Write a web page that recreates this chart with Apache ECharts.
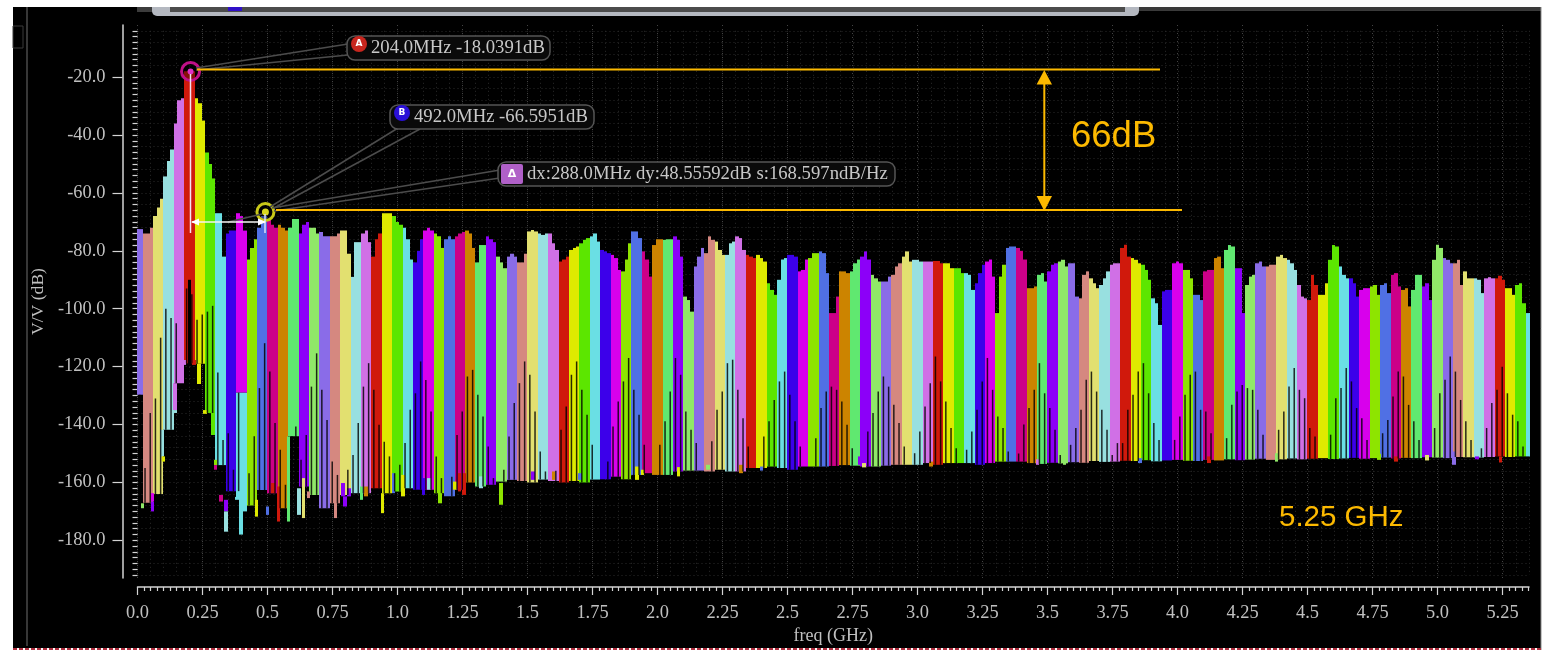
<!DOCTYPE html>
<html>
<head>
<meta charset="utf-8">
<title>freq spectrum</title>
<script src="https://cdn.jsdelivr.net/npm/echarts@6/dist/echarts.min.js"></script>
<style>
html, body { margin: 0; padding: 0; background: #fff; }
#panel { position: absolute; left: 13px; top: 7px; width: 1528px; height: 641px; background: #000; }
#main { position: absolute; left: 0; top: 0; width: 1552px; height: 650px; filter: blur(0.5px); }
</style>
</head>
<body>
<div id="panel"></div>
<div id="main"></div>
<script>
var xTicks = [0, 0.25, 0.5, 0.75, 1, 1.25, 1.5, 1.75, 2, 2.25, 2.5, 2.75, 3, 3.25, 3.5, 3.75, 4, 4.25, 4.5, 4.75, 5, 5.25];
var xTickLabels = ['0.0', '0.25', '0.5', '0.75', '1.0', '1.25', '1.5', '1.75', '2.0', '2.25', '2.5', '2.75', '3.0', '3.25', '3.5', '3.75', '4.0', '4.25', '4.5', '4.75', '5.0', '5.25'];
var yTicks = [-20, -40, -60, -80, -100, -120, -140, -160, -180];

// one colour per 40 MHz band, the cycle repeats every 18 bands
var bandColors = ['#8a6ce8', '#d58880', '#e2e070', '#98e0e0', '#d070e6', '#d0190c', '#dfea00', '#5ce600', '#6adfe4',
    '#3c00ea', '#d800ec', '#8ee400', '#5070e4', '#cc0088', '#cc8400', '#60e870', '#8c00f8', '#90e868'];
var bandWidth = 0.04;

// top edge of each band in dB: left, middle, right
var bandTops = [
    [-72.5, -72.5, -72.5], [-74, -74, -72], [-68, -65, -62], [-54.3, -49, -45], [-36, -28, -27.3], [-18, -18, -18],
    [-27.3, -29, -35], [-46, -50, -55], [-67, -67, -82], [-74, -73, -73], [-67, -68, -73], [-83, -79, -76],
    [-72, -68, -68], [-69, -71, -72], [-71, -72, -73], [-72, -69, -69], [-74, -71, -70], [-72, -72, -74],
    [-73.5, -75, -75], [-75, -75, -74], [-73, -73, -81], [-89, -77, -77], [-74, -73, -77], [-82, -76, -74],
    [-67, -67, -67], [-68, -70, -71], [-72, -76, -83], [-84, -80, -76], [-73, -72, -73], [-74, -75, -79],
    [-76, -75, -76], [-75, -74, -73.5], [-73, -74, -79], [-84, -78, -78], [-75, -76, -77], [-82, -84, -86],
    [-82, -81, -82], [-84, -84, -81], [-73.3, -72.8, -73.3], [-74, -74.5, -74], [-74, -77.4, -79.7], [-83.7, -83, -82],
    [-79.7, -79, -78.5], [-77.4, -76.2, -75.6], [-75, -74, -76.8], [-79.7, -80.2, -80.8], [-81.4, -82.5, -86.6], [-87.1, -83, -77.4],
    [-73.3, -73.3, -75.6], [-80.2, -83, -88.9], [-78, -76, -76], [-76.2, -76, -76], [-75, -76.2, -82], [-95.8, -97, -101],
    [-85.4, -82, -79], [-80.8, -75, -76.2], [-76.8, -79.7, -81.4], [-81.4, -77.4, -76.8], [-75, -75.6, -79.7], [-81.4, -82, -82.5],
    [-81.4, -82.5, -83.7], [-91.2, -93.5, -95.2], [-90, -83, -82.5], [-81.4, -81.4, -82], [-87.1, -86.6, -83], [-82.5, -80.8, -80.8],
    [-80.2, -80.8, -87.7], [-101.5, -101.5, -95.8], [-87.1, -87.1, -87.7], [-87.1, -84.3, -83], [-82, -80.2, -83], [-88.3, -89.5, -90.6],
    [-90.6, -90.6, -88.9], [-88.3, -85.4, -84.3], [-82, -80.2, -83.7], [-83.1, -83.1, -83.7], [-83.7, -83.7, -83.7], [-83.5, -83.5, -84.3],
    [-84.3, -84.3, -86], [-86, -86, -87.7], [-87.7, -88.3, -93.5], [-91.2, -87.7, -84.8], [-83.7, -83, -88.9], [-101.5, -88.9, -84.8],
    [-79, -78.5, -78.5], [-79, -80, -83], [-92.9, -92.9, -92.3], [-88.3, -87.7, -90.6], [-87.1, -84.8, -84.3], [-83.7, -83.1, -85.4],
    [-84.3, -84.3, -95.8], [-96.4, -88.3, -87.1], [-89.5, -91.2, -92.9], [-91.8, -89.5, -87.1], [-84.8, -84.3, -84.3], [-79, -77.9, -82],
    [-82.5, -83.1, -84.3], [-84.8, -86.6, -90], [-96.4, -98.1, -105.6], [-94, -93.5, -93.5], [-84.3, -83.7, -84.3], [-86.6, -86.6, -89.5],
    [-95.2, -95.2, -97], [-87.1, -86.6, -86.6], [-82.5, -82, -86], [-79.7, -78, -78.5], [-86, -86, -101.5], [-91.8, -88.9, -88.3],
    [-84.3, -83.7, -85.4], [-85.4, -84.8, -84.8], [-82, -81.4, -82.5], [-83.1, -84.3, -86.6], [-91.8, -95.8, -96.4], [-97, -88.3, -91.8],
    [-95.2, -95.2, -91.2], [-83.1, -78, -78.5], [-85.4, -88.3, -89.5], [-89.5, -91.2, -95.8], [-93.5, -92.9, -92.9], [-92.3, -91.8, -95.2],
    [-91.8, -91.2, -94.6], [-88.3, -87.7, -92.3], [-93.5, -92.9, -99.2], [-93.5, -88.3, -88.3], [-92.3, -91.2, -97], [-83.1, -77.9, -79],
    [-82.5, -83.1, -84.3], [-84.3, -83.1, -91.8], [-87.1, -89.5, -89.5], [-89.5, -90, -94.6], [-89.5, -89.1, -89.5], [-89.5, -88.6, -90],
    [-92.9, -92.9, -95.2], [-91.8, -91.2, -98.1], [-101.5, -101.5, -101.5]
];

// bottom edge of each band in dB
var bandBottoms = [
    -129.7, -167, -164, -141.8, -125.7, -118.8, -119, -136, -154, -163, -129, -168, -162.6, -163.7, -168.9, -144, -161.4, -164.3,
    -168.9, -167.2, -164.3, -163.7, -163.7, -162, -163.7, -163.1, -162, -162.5, -162.5, -163.7, -164.8, -162.5, -160, -161.4, -160.8, -159.7,
    -159.1, -159.5, -160, -159, -159.5, -160, -159.5, -160, -159, -158.9, -158, -158.9, -157.4, -156.8, -157.4, -157.4, -156.2, -155.9,
    -155.9, -156.2, -155.6, -156.2, -156.2, -155, -155, -154.5, -155, -155.6, -154.5, -154.5, -154.5, -154.3, -154, -154.2, -154.5, -154.5,
    -154.2, -153.9, -153.9, -153.9, -153.3, -153.9, -153.3, -153.3, -153.3, -153.9, -153.3, -152.8, -152.8, -152.8, -153.3, -153.6, -153.2, -153.4,
    -153, -153.2, -152.6, -152.9, -152.8, -152.5, -152.6, -152.3, -152.7, -152.4, -152.2, -152.5, -152.6, -152.2, -152.4, -152, -152.3, -152.1,
    -151.8, -152.2, -152, -151.7, -152, -151.8, -151.6, -151.9, -151.7, -151.5, -151.8, -151.6, -151.4, -151.7, -151.5, -151.6, -151.3, -151.4,
    -151.6, -151.2, -151.3, -151.4, -151.2, -151, -151.2, -151, -151
];

// dark lines every 20 MHz that rise from the noise floor, top edge in dB
var spikeStart = 0.009;
var spikeStep = 0.02;
var spikeTops = [
    -132.6, -155, -136, -131, -110, -100, -103.2, -105, null, -93,
    -95, -103.8, -102, -101, -99, -122, -145.3, -143, -155.6, -163,
    null, -156.8, -144, -127.4, -111.9, -121.7, -139.5, -148.7, -160.8, null,
    -140.7, -152.2, -143.6, -126.9, -115.4, -128, -138.4, -152.8, -157.4, null,
    -155.6, -150.5, -139.5, -126.9, -118.8, -128, -140.1, -145.9, -151, -156.8,
    -153.9, -146.4, -134.9, -129.2, -118.2, -124.6, -135.5, -151, -158.5, null,
    -158, -143.6, -135.5, -123.4, -121.1, -129.7, -137.2, -147.6, -158.5, null,
    -155.6,
    -144.1, -132.6, -125.7, -118.2, -122.8, -135.5, -149.3, -156.2, null, -156, -141.8, -133.8, -122.8, -118.2, -128, -136.6, -147,
    null, null, -152.8, -140.7, -132, -125.1, -117, -128, -136.6, -147, null, null, -147, -138.9, -128.6, -117, -122.8, -135.5, -141.8, -146.4,
    null, null, -145.8, -134.9, -128.6, -118.8, -117.6, -128, -137.8, -147.6, null, null, -144.1, -138.9, -131.5, -125.1, -121.7, -129.7, -138.9, -147.6,
    null, null, -144.7, -134.3, -128.6, -126.9, -128, -132, -140.1, -148.2, null, null, -142.4, -136, -128.6, -123.4, -126.9, -133.2, -139.5, -147.6,
    null, -149.9, -142.4, -133.8, -125.7, -116.5, -125.1, -132, -141.2, -148.2, null, -148.7, -142.4, -134.9, -125.1, -117, -128, -137.2, -141.2, -149.3,
    null, -150, -140, -134.3, -128, -118.8, -129.2, -134.3, -141.8, -150.5,
    null, -147, -141.2, -134.9, -124.5, -121.7, -128.6, -134.9, -141.8, -150.5,
    -146.4, -146.4, -134.9, -129.7, -121.7, -118.8, -129.2, -139.5, -145.3, null,
    null, -145.3, -137.2, -129.7, -122.8, -121.7, -134.9, -135.5, -143, null,
    null, -144.7, -133.2, -128.6, -126.3, -127.4, -128, -134.9, -143.5, null,
    null, -141.8, -135.5, -126.9, -120.5, -128, -130.9, -141.2, -144.1, null,
    null, -143.5, -130.9, -127.4, -120.5, -125.1, -134.3, -137.8, -145.3, null,
    null, -143, -138.4, -130.3, -121.7, -123.4, -133.2, -138.9, -145.3, null,
    null, -141.2, -129.2, -124.5, -116.5, -121.7, -131.5, -138.9, -145.3, null,
    -148.2, -141.2, -132.6, -128, -120, -129.2, -136.6, -138.9, -147.6
];

// small fragments under the bands: freq, top dB, bottom dB, colour index (-1 black), optional width
var tips = [
    [0.019, -167.2, -168.9, 17], [0.058, -163.7, -166.6, 10], [0.058, -166.6, -170, 16], [0.095, -141.8, -151, 3], [0.10, -151, -152.8, 6],
    [0.144, -125.7, -135, 4], [0.144, -135, -136, 3], [0.181, -117.7, -119.4, 4], [0.2, -90, -119.4, -1, 0.012], [0.217, -117.7, -119.4, 5],
    [0.237, -119, -126, 6], [0.26, -135, -136.3, 6], [0.29, -136, -143.6, 7], [0.30, -152.2, -154, 11], [0.30, -154, -155.6, 13],
    [0.32, -164.3, -166.6, 13], [0.34, -166, -170, 16], [0.34, -170, -177, 3], [0.383, -165, -166, 8], [0.4, -129, -165, 8, 0.04],
    [0.397, -165, -178, 8], [0.413, -165, -170, 8], [0.458, -166, -171.8, 6], [0.50, -168.3, -171.2, 12], [0.522, -160.2, -163.7, 5],
    [0.542, -161.4, -173.5, 5], [0.581, -144.1, -173.5, 15], [0.62, -162, -171.2, 3], [0.639, -158.5, -172.3, 2], [0.658, -163.1, -165.4, 1],
    [0.761, -163.7, -172.3, 1], [0.791, -160.2, -164.8, 16], [0.798, -164.8, -168.3, 16], [0.813, -162, -164.8, 16], [0.861, -161.4, -166, 15],
    [0.879, -161.4, -164.8, 14], [0.942, -163.7, -170.6, 6], [0.984, -156.8, -163.7, 12], [1.02, -157.4, -164.8, 6], [1.10, -158.5, -164.3, 9],
    [1.12, -158.5, -162.5, 3], [1.163, -161.4, -167.2, 11], [1.22, -159.7, -162.5, 6], [1.238, -156.8, -163.1, 5], [1.257, -156.8, -164.3, 5],
    [1.322, -157.9, -162, 3], [1.399, -160.2, -167.7, 11],
    [1.521, -156.2, -159.1, 16], [1.60, -156.2, -159.1, 14], [1.703, -156.8, -159.1, 12], [1.921, -154.5, -159.1, 6], [1.942, -155.6, -157.4, 6],
    [2.081, -154.7, -157.9, 6], [2.195, -153.9, -155.6, 17], [2.32, -153.9, -156.8, 14], [2.40, -154.5, -155.9, 12], [2.794, -153.3, -154.8, 2],
    [2.779, -151, -153.9, 16], [3.051, -152.8, -154.5, 14], [3.461, -152, -153.9, 4], [3.565, -152.2, -153.9, 17], [3.856, -151.6, -153.3, 12],
    [4.122, -151, -153.3, 5], [4.381, -149.9, -152.8, 17], [4.776, -150.1, -152.2, 11], [4.84, -151, -152.8, 5], [4.96, -150.5, -152.4, 2],
    [5.064, -149.3, -153.9, 0], [5.151, -151, -152, 16], [5.242, -151, -153.1, 5]
];

var markerA = [[0.204, -18.04]];
var markerB = [[0.492, -66.6]];

var orange = '#fcb900';
var serifFont = '"Liberation Serif", serif';

var bandRows = [];
bandTops.forEach(function (tops, k) {
    tops.forEach(function (top, j) {
        var x0 = (k - 0.5 + j / 3) * bandWidth;
        bandRows.push([x0, x0 + bandWidth / 3, top, bandBottoms[k], k % bandColors.length]);
    });
});
tips.forEach(function (t) {
    var w = t[4] || 0.014;
    bandRows.push([t[0] - w / 2, t[0] + w / 2, t[1], t[2], t[3]]);
});

var spikeRows = [];
spikeTops.forEach(function (top, m) {
    if (top === null) return;
    var f = spikeStart + m * spikeStep;
    var k = Math.min(Math.round(f / bandWidth), bandBottoms.length - 1);
    spikeRows.push([f, top, bandBottoms[k]]);
});

function renderBand(params, api) {
    var a = api.coord([api.value(0), api.value(2)]);
    var b = api.coord([api.value(1), api.value(3)]);
    var x0 = Math.round(a[0]), x1 = Math.round(b[0]);
    var c = api.value(4);
    return {
        type: 'rect',
        shape: { x: x0, y: a[1], width: Math.max(x1 - x0, 1), height: b[1] - a[1] },
        style: { fill: c < 0 ? '#000' : bandColors[c] }
    };
}

function renderSpike(params, api) {
    var a = api.coord([api.value(0), api.value(1)]);
    var b = api.coord([api.value(0), api.value(2)]);
    return {
        type: 'rect',
        shape: { x: a[0] - 0.75, y: a[1], width: 1.5, height: b[1] - a[1] },
        style: { fill: 'rgba(0,0,0,0.82)' }
    };
}

// overlay annotations
function line(x1, y1, x2, y2, color, w) {
    return { type: 'line', z: 100, shape: { x1: x1, y1: y1, x2: x2, y2: y2 }, style: { stroke: color, lineWidth: w } };
}
function tri(pts, color) {
    return { type: 'polygon', z: 101, shape: { points: pts }, style: { fill: color } };
}
function label(text, x, y, font, color, align) {
    return { type: 'text', z: 103, style: { text: text, x: x, y: y, font: font, fill: color, align: align || 'left', verticalAlign: 'middle' } };
}
function box(x, y, w, h, r, fill, stroke) {
    return { type: 'rect', z: 102, shape: { x: x, y: y, width: w, height: h, r: r }, style: { fill: fill, stroke: stroke, lineWidth: 1.5 } };
}

var calloutFont = '18.7px ' + serifFont;
var graphics = [
    // window chrome
    { type: 'rect', z: 90, shape: { x: 137, y: 7, width: 16, height: 5 }, style: { fill: '#3c3c3c' } },
    { type: 'rect', z: 90, shape: { x: 1138, y: 7, width: 403, height: 4 }, style: { fill: '#3a3a3a' } },
    { type: 'rect', z: 91, shape: { x: 152, y: 5, width: 987, height: 11, r: [0, 0, 5, 5] }, style: { fill: '#b4b8c0' } },
    { type: 'rect', z: 92, shape: { x: 170, y: 5, width: 955, height: 7 }, style: { fill: '#4c4c4c' } },
    { type: 'rect', z: 93, shape: { x: 228, y: 7, width: 14, height: 4 }, style: { fill: '#3010c8' } },
    { type: 'rect', z: 94, shape: { x: 0, y: 0, width: 1552, height: 7 }, style: { fill: '#fff' } },
    { type: 'rect', z: 94, shape: { x: 13, y: 26, width: 10, height: 22 }, style: { fill: 'transparent', stroke: '#3a3a3a', lineWidth: 1 } },
    line(27, 7, 27, 646, '#4a4a4a', 1.5),
    line(1541, 7, 1541, 650, '#8a8a8a', 1),
    { type: 'line', z: 100, shape: { x1: 13, y1: 649, x2: 1541, y2: 649 }, style: { stroke: '#b03040', lineWidth: 2, lineDash: [4, 2] } },
    // callout leaders
    line(196, 68, 348, 44, '#4c4c4c', 1.5), line(196, 70, 348, 55, '#4c4c4c', 1.5),
    line(270, 207, 398, 128, '#4c4c4c', 1.5), line(274, 208, 420, 129, '#4c4c4c', 1.5),
    line(272, 208, 500, 170, '#4c4c4c', 1.5), line(274, 211, 500, 178, '#4c4c4c', 1.5),
    line(228, 222, 262, 214, '#4c4c4c', 1.5),
    // callout boxes
    box(347, 36, 203, 24, 8, '#0a0a0a', '#555'),
    { type: 'circle', z: 103, shape: { cx: 359, cy: 44, r: 8 }, style: { fill: '#c8261e' } },
    label('A', 359, 43.5, 'bold 9px "DejaVu Sans"', '#fff', 'center'),
    label('204.0MHz -18.0391dB', 371, 48, calloutFont, '#c8c8c8'),
    box(390, 105, 204, 24, 8, '#0a0a0a', '#555'),
    { type: 'circle', z: 103, shape: { cx: 402, cy: 113, r: 8 }, style: { fill: '#2a10d8' } },
    label('B', 402, 112.5, 'bold 9px "DejaVu Sans"', '#fff', 'center'),
    label('492.0MHz -66.5951dB', 414, 117, calloutFont, '#c8c8c8'),
    box(498, 162, 397, 24, 8, '#0a0a0a', '#555'),
    { type: 'rect', z: 103, shape: { x: 501, y: 164, width: 22, height: 20, r: 2 }, style: { fill: '#b060c8' } },
    label('\u0394', 512, 174, 'bold 11px "DejaVu Sans"', '#fff', 'center'),
    label('dx:288.0MHz dy:48.55592dB s:168.597ndB/Hz', 527, 174, calloutFont, '#c8c8c8'),
    // delta arrow and stems
    line(190.5, 74, 190.5, 233, '#f4e0f0', 1.5),
    line(265, 214, 265, 233, '#d8e0f8', 1.5),
    line(192, 222, 265, 222, '#f4f4f4', 1.5),
    tri([[191, 222], [199, 218.5], [199, 225.5]], '#fff'),
    tri([[266, 222], [258, 218.5], [258, 225.5]], '#fff'),
    // orange measurement
    line(197, 69.5, 1160, 69.5, orange, 2),
    line(276, 210, 1182, 210, orange, 2),
    line(1044.3, 80, 1044.3, 200, orange, 2),
    tri([[1044.3, 70], [1036.6, 84.5], [1052, 84.5]], orange),
    tri([[1044.3, 211], [1036.6, 196], [1052, 196]], orange),
    { type: 'text', z: 103, style: { text: '66dB', x: 1071, y: 155, font: '36.5px "Liberation Sans"', fill: orange, verticalAlign: 'bottom' } },
    { type: 'text', z: 103, style: { text: '5.25 GHz', x: 1279, y: 533, font: '29.5px "Liberation Sans"', fill: orange, verticalAlign: 'bottom' } }
];

var myChart = echarts.init(document.getElementById('main'));

var option = {
    backgroundColor: 'transparent',
    animation: false,
    grid: [
        { left: 137.5, right: 23, top: 25, bottom: 72 },
        { left: 137.5, right: 23, top: 30.8, bottom: 75 }
    ],
    xAxis: [{
        type: 'value',
        min: 0,
        max: 5.352,
        interval: 0.25,
        offset: 9,
        position: 'bottom',
        name: 'freq (GHz)',
        nameLocation: 'middle',
        nameGap: 38,
        nameTextStyle: { color: '#c0c0c0', fontFamily: serifFont, fontSize: 18 },
        axisLine: { onZero: false, lineStyle: { color: '#d4d4d4', width: 1.5 } },
        axisTick: { length: 8, inside: false, customValues: xTicks, lineStyle: { color: '#d4d4d4', width: 1.2 } },
        minorTick: { show: true, splitNumber: 10, length: 4, lineStyle: { color: '#d4d4d4', width: 1.2 } },
        axisLabel: {
            color: '#c0c0c0', fontFamily: serifFont, fontSize: 18.4, margin: 17,
            customValues: xTicks,
            formatter: function (v) { return xTickLabels[xTicks.indexOf(v)]; }
        },
        splitLine: { show: true, lineStyle: { color: '#444', width: 1, type: [1, 3] } }
    }, {
        type: 'value',
        gridIndex: 1,
        min: 0,
        max: 5.35,
        interval: 0.05,
        axisLine: { show: false },
        axisTick: { show: false },
        axisLabel: { show: false },
        splitLine: { show: true, lineStyle: { color: '#2a2a2a', width: 1, type: [1, 3] } }
    }],
    yAxis: [{
        type: 'value',
        min: -193,
        max: -2,
        offset: 15,
        name: 'V/V (dB)',
        nameLocation: 'middle',
        nameGap: 67,
        nameTextStyle: { color: '#c0c0c0', fontFamily: serifFont, fontSize: 17.6 },
        axisLine: { onZero: false, lineStyle: { color: '#d4d4d4', width: 1.5 } },
        axisTick: { length: 10, customValues: yTicks, lineStyle: { color: '#d4d4d4', width: 1.2 } },
        axisLabel: {
            color: '#c0c0c0', fontFamily: serifFont, fontSize: 18.4, margin: 17,
            customValues: yTicks,
            formatter: function (v) { return v.toFixed(1); }
        },
        splitLine: { show: false }
    }, {
        type: 'value',
        gridIndex: 1,
        min: -192,
        max: -4,
        interval: 4,
        offset: 15,
        axisLine: { show: false },
        axisTick: { length: 5, lineStyle: { color: '#d4d4d4', width: 1.2 } },
        minorTick: { show: true, splitNumber: 2, length: 5, lineStyle: { color: '#d4d4d4', width: 1.2 } },
        axisLabel: { show: false },
        splitLine: { show: true, lineStyle: { color: '#2a2a2a', width: 1, type: [1, 3] } }
    }],
    series: [{
        name: 'bands',
        type: 'custom',
        renderItem: renderBand,
        clip: true,
        encode: { x: [0, 1], y: [2, 3] },
        data: bandRows,
        z: 2
    }, {
        name: 'spikes',
        type: 'custom',
        renderItem: renderSpike,
        clip: true,
        encode: { x: 0, y: [1, 2] },
        data: spikeRows,
        z: 3
    }, {
        name: 'marker A',
        type: 'scatter',
        data: markerA,
        symbolSize: 18,
        itemStyle: { color: 'rgba(0,0,0,0.35)', borderColor: '#c01088', borderWidth: 3, opacity: 1 },
        z: 20
    }, {
        name: 'marker B',
        type: 'scatter',
        data: markerB,
        symbolSize: 17,
        itemStyle: { color: 'rgba(0,0,0,0.35)', borderColor: '#c8c818', borderWidth: 3, opacity: 1 },
        z: 20
    }, {
        name: 'marker A dot',
        type: 'scatter',
        data: markerA,
        symbolSize: 6,
        itemStyle: { color: '#e030c8', opacity: 1 },
        z: 21
    }, {
        name: 'marker B dot',
        type: 'scatter',
        data: markerB,
        symbolSize: 7,
        itemStyle: { color: '#d8d820', opacity: 1 },
        z: 21
    }],
    graphic: graphics
};
myChart.setOption(option);
</script>
</body>
</html>
